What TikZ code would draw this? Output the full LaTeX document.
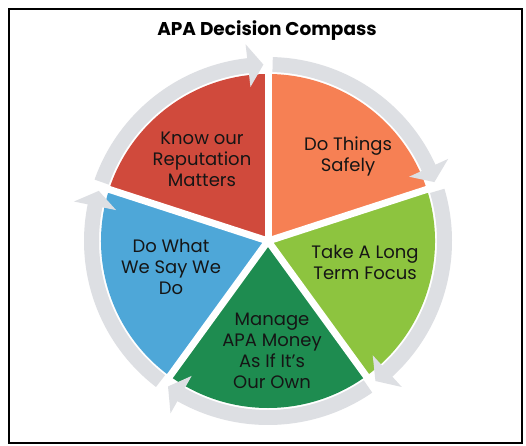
\documentclass[tikz,border=0pt]{standalone}
\usepackage{fontspec}
\setmainfont{Poppins}
\definecolor{segred}{HTML}{D04A3C}
\definecolor{segorange}{HTML}{F68054}
\definecolor{seglgreen}{HTML}{8DC43F}
\definecolor{segdgreen}{HTML}{1E8C50}
\definecolor{segblue}{HTML}{4EA7D8}
\definecolor{ringgray}{HTML}{DDDFE3}
\definecolor{txt}{HTML}{151515}
\newcommand\cyclearrow[2]{%
  \fill[ringgray] ({#1-1.5}:184) arc[start angle={#1-1.5}, end angle={#2+6.5}, radius=184]
    -- ({#2+6.5}:198) -- ({#2+1.5}:176.5) -- ({#2+6.5}:155) -- ({#2+6.5}:169)
    arc[start angle={#2+6.5}, end angle={#1-1.5}, radius=169] -- cycle;}
\newcommand\pieseg[3]{%
  \fill[#3] (0,0) -- (#1:167) arc[start angle=#1, end angle=#2, radius=167] -- cycle;}
\begin{document}
\begin{tikzpicture}[x=1pt,y=1pt,
  lbl/.style={align=center, text=txt, font=\fontsize{18}{21}\selectfont, inner sep=0pt},
  ttl/.style={text=black, font=\bfseries\fontsize{18.5}{21}\selectfont, inner sep=0pt, anchor=base}]
\useasboundingbox (0,0) rectangle (526,445);
\fill[white] (0,0) rectangle (526,445);
\draw[black, line width=1.6] (9,2) rectangle (522,436);
\node[ttl] (title) at (267,409) {APA Decision Compass};
\begin{scope}[shift={(268,204)}]
  \pieseg{90}{162}{segred}
  \pieseg{18}{90}{segorange}
  \pieseg{-54}{18}{seglgreen}
  \pieseg{234}{306}{segdgreen}
  \pieseg{162}{234}{segblue}
  \foreach \a in {90,162,234,306,18} {
    \draw[white, line width=7] (0,0) -- (\a:200);
  }
  \fill[white] (0,0) circle (6);
  \cyclearrow{162}{90}
  \cyclearrow{90}{18}
  \cyclearrow{18}{-54}
  \cyclearrow{-54}{-126}
  \cyclearrow{-126}{-198}
\end{scope}
\node[lbl] (reputation) at (202,286) {Know our\\Reputation\\Matters};
\node[lbl] (safely) at (348,289) {Do Things\\Safely};
\node[lbl] (longterm) at (365,183) {Take A Long\\Term Focus};
\node[lbl] (dowhat) at (171,178) {Do What\\We Say We\\Do};
\node[lbl] (money) at (272,94) {Manage\\APA Money\\As If It's\\Our Own};
\end{tikzpicture}
\end{document}
